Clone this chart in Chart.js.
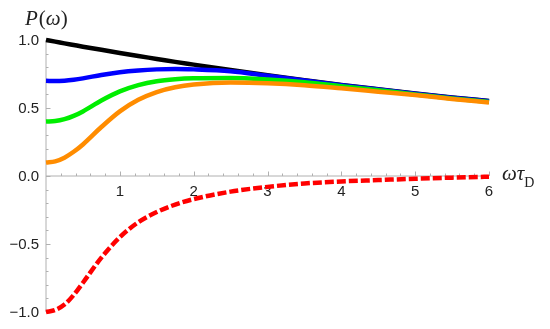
<!DOCTYPE html>
<html>
<head>
<meta charset="utf-8">
<script src="https://cdn.jsdelivr.net/npm/chart.js@4.4.1/dist/chart.umd.min.js"></script>
<style>
  html, body { margin: 0; padding: 0; background: #fff; }
  #wrap { width: 550px; height: 329px; position: relative; }
</style>
</head>
<body>
<div id="wrap"><canvas id="chart"></canvas></div>
<script>
const xValues = [0, 0.125, 0.25, 0.375, 0.5, 0.75, 1, 1.25, 1.5, 1.75, 2, 2.5, 3, 3.5, 4, 4.5, 5, 5.5, 6];

const blackVals  = [1.0, 0.988, 0.975, 0.963, 0.951, 0.928, 0.905, 0.882, 0.861, 0.839, 0.819, 0.779, 0.741, 0.705, 0.670, 0.638, 0.607, 0.577, 0.552];
const blueVals   = [0.70, 0.698, 0.701, 0.708, 0.718, 0.743, 0.763, 0.776, 0.784, 0.787, 0.784, 0.770, 0.737, 0.703, 0.668, 0.636, 0.605, 0.575, 0.550];
const greenVals  = [0.40, 0.404, 0.418, 0.442, 0.475, 0.555, 0.622, 0.668, 0.697, 0.712, 0.719, 0.721, 0.71, 0.69, 0.66, 0.63, 0.60, 0.57, 0.545];
const orangeVals = [0.10, 0.108, 0.135, 0.178, 0.232, 0.36, 0.475, 0.56, 0.617, 0.652, 0.672, 0.687, 0.682, 0.668, 0.645, 0.62, 0.595, 0.567, 0.540];
const redVals    = [-1.0, -0.985, -0.945, -0.875, -0.785, -0.6, -0.45, -0.34, -0.265, -0.21, -0.17, -0.115, -0.08, -0.055, -0.04, -0.03, -0.02, -0.012, -0.005];

const xTicks = [1, 2, 3, 4, 5, 6];
const xTickLabels = ["1", "2", "3", "4", "5", "6"];
const yTicks = [-1, -0.5, 0, 0.5, 1];
const yTickLabels = ["\u22121.0", "\u22120.5", "0.0", "0.5", "1.0"];

function pts(vals) { return xValues.map((x, i) => ({x: x, y: vals[i]})); }

function line(vals, color, order, dash) {
    return {
        data: pts(vals), borderColor: color, borderWidth: 4.5,
        pointRadius: 0, fill: false, cubicInterpolationMode: 'monotone',
        borderDash: dash || [], borderCapStyle: 'butt', order: order, clip: false
    };
}

// draws Mathematica-like axes through the origin
const axesPlugin = {
    id: 'axes',
    beforeDatasetsDraw(chart) {
        const ctx = chart.ctx, xs = chart.scales.x, ys = chart.scales.y;
        const x0 = xs.getPixelForValue(0), y0 = ys.getPixelForValue(0);
        ctx.save();
        ctx.strokeStyle = '#b0b0b0';
        ctx.lineWidth = 1;
        ctx.beginPath();
        ctx.moveTo(x0, ys.getPixelForValue(-1)); ctx.lineTo(x0, ys.getPixelForValue(1));
        ctx.moveTo(xs.getPixelForValue(0), y0); ctx.lineTo(xs.getPixelForValue(6), y0);
        // y ticks
        for (let k = -10; k <= 10; k++) {
            const py = Math.round(ys.getPixelForValue(k / 10)) + 0.5;
            const len = k % 5 === 0 ? 4.5 : 2.5;
            ctx.moveTo(x0, py); ctx.lineTo(x0 + len, py);
        }
        // x ticks
        for (let k = 1; k <= 30; k++) {
            const px = Math.round(xs.getPixelForValue(k / 5)) + 0.5;
            const len = k % 5 === 0 ? 4.5 : 2.5;
            ctx.moveTo(px, y0); ctx.lineTo(px, y0 - len);
        }
        ctx.stroke();

        ctx.fillStyle = '#222';
        ctx.font = '15px "Liberation Sans", Arial, sans-serif';
        ctx.textAlign = 'right'; ctx.textBaseline = 'middle';
        yTicks.forEach((v, i) => ctx.fillText(yTickLabels[i], x0 - 7, ys.getPixelForValue(v) + 1));
        ctx.textAlign = 'center'; ctx.textBaseline = 'top';
        xTicks.forEach((v, i) => ctx.fillText(xTickLabels[i], xs.getPixelForValue(v), y0 + 8));

        // axis labels
        ctx.textAlign = 'left'; ctx.textBaseline = 'alphabetic';
        ctx.font = 'italic 21px "Liberation Serif", "Times New Roman", serif';
        ctx.fillText('P', 25, 25);
        let w = ctx.measureText('P').width;
        ctx.font = '21px "Liberation Serif", "Times New Roman", serif';
        ctx.fillText('(', 25 + w + 1, 25);
        w += ctx.measureText('(').width + 1;
        ctx.font = 'italic 21px "Liberation Serif", "Times New Roman", serif';
        ctx.fillText('\u03c9', 25 + w, 25);
        w += ctx.measureText('\u03c9').width;
        ctx.font = '21px "Liberation Serif", "Times New Roman", serif';
        ctx.fillText(')', 25 + w, 25);

        ctx.font = 'italic 21px "Liberation Serif", "Times New Roman", serif';
        ctx.fillText('\u03c9\u03c4', 502, 180);
        const w2 = ctx.measureText('\u03c9\u03c4').width;
        ctx.font = '14px "Liberation Serif", "Times New Roman", serif';
        ctx.fillText('D', 502 + w2, 187);
        ctx.restore();
    }
};

new Chart(document.getElementById('chart'), {
    type: 'line',
    data: {
        datasets: [
            line(blackVals, '#000000', 5),
            line(blueVals, '#0000ff', 4),
            line(greenVals, '#00ee00', 3),
            line(orangeVals, '#ff8c00', 2),
            line(redVals, '#ff0000', 1, [9, 3])
        ]
    },
    options: {
        responsive: true, maintainAspectRatio: false, animation: false,
        layout: { padding: { left: 46, right: 61, top: 40, bottom: 17 } },
        plugins: { legend: { display: false }, tooltip: { enabled: false } },
        scales: {
            x: { type: 'linear', min: 0, max: 6, display: false },
            y: { type: 'linear', min: -1, max: 1, display: false }
        }
    },
    plugins: [axesPlugin]
});
</script>
</body>
</html>
